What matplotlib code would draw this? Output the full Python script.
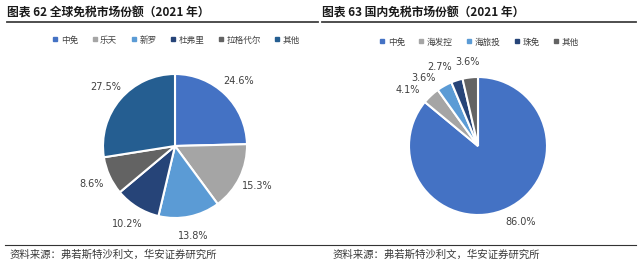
import matplotlib.pyplot as plt
from matplotlib.lines import Line2D

plt.rcParams['font.family'] = ['Noto Sans CJK SC', 'DejaVu Sans']

# ===================================== 数据 ==============================================================
g_labels = ["中免", "乐天", "新罗", "杜弗里", "拉格代尔", "其他"]
g_values = [24.6, 15.3, 13.8, 10.2, 8.6, 27.5]
g_colors = ["#4472C4", "#A5A5A5", "#5B9BD5", "#264478", "#636363", "#255E91"]

d_labels = ["中免", "海发控", "海旅投", "珠免", "其他"]
d_values = [86.0, 4.1, 3.6, 2.7, 3.6]
d_colors = ["#4472C4", "#A5A5A5", "#5B9BD5", "#264478", "#636363"]

titles = ["图表 62 全球免税市场份额（2021 年）", "图表 63 国内免税市场份额（2021 年）"]
source = "资料来源：弗若斯特沙利文，华安证券研究所"

W, H = 640, 264
fig = plt.figure(figsize=(W / 100, H / 100), dpi=100)


def px(x, y):
    # 像素坐标 -> figure 坐标
    return x / W, 1 - y / H


def draw_pie(cx, cy, r, values, colors, pctd, nudge=None):
    ax = fig.add_axes([(cx - r) / W, (H - cy - r) / H, 2 * r / W, 2 * r / H])
    wedges, texts = ax.pie(values, colors=colors, startangle=90, counterclock=False,
                           labels=[f"{v:.1f}%" for v in values], labeldistance=pctd,
                           wedgeprops=dict(edgecolor="white", linewidth=1.5),
                           textprops=dict(fontsize=7, color="#404040", family="DejaVu Sans"))
    for i, t in enumerate(texts):
        t.set_ha("center")
        t.set_va("center")
        if nudge:
            # 小扇区标签避让（像素）
            x, y = t.get_position()
            t.set_position((x + nudge[i][0] / r, y - nudge[i][1] / r))
    ax.set_xlim(-1, 1)
    ax.set_ylim(-1, 1)
    ax.set_aspect("auto")
    ax.axis("off")
    return wedges


def draw_legend(xc, y, labels, colors):
    handles = [Line2D([], [], marker="s", linestyle="", markersize=2.5, color=c) for c in colors]
    fig.legend(handles, labels, loc="center", bbox_to_anchor=px(xc, y), ncol=len(labels),
               frameon=False, fontsize=6.2, handletextpad=0.25, columnspacing=1.5,
               labelcolor="#404040", handlelength=0.8)


# 左图
draw_pie(175, 146, 72, g_values, g_colors, 1.27)
draw_legend(176, 40, g_labels, g_colors)
# 右图
draw_pie(478, 146, 69, d_values, d_colors, 1.25,
         nudge=[(6, -2), (-11, 7), (-12, 7), (-12, 3), (-1, 2)])
draw_legend(479, 42, d_labels, d_colors)

# 标题和分隔线
for x0, x1, t in [(7, 318, titles[0]), (322, 636, titles[1])]:
    fig.text(*px(x0, 13), t, fontsize=8.5, fontweight="bold", color="#1a1a1a", va="center", ha="left")
    fig.add_artist(Line2D([x0 / W, x1 / W], [1 - 22 / H] * 2, color="#404040", linewidth=1.3))

fig.add_artist(Line2D([5 / W, 636 / W], [1 - 245 / H] * 2, color="#333333", linewidth=0.8))
fig.text(*px(10, 255), source, fontsize=7.5, color="#3a3a3a", va="center", ha="left")
fig.text(*px(333, 255), source, fontsize=7.5, color="#3a3a3a", va="center", ha="left")

fig.savefig("out.png", dpi=100, facecolor="white")
